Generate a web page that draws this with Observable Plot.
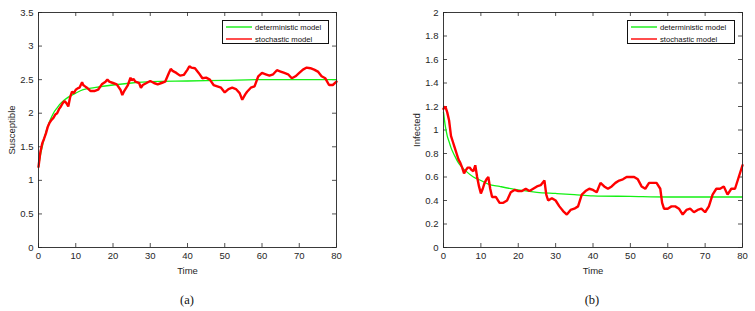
<!DOCTYPE html>
<html>
<head>
<meta charset="utf-8">
<script src="https://cdn.jsdelivr.net/npm/d3@7"></script>
<script src="https://cdn.jsdelivr.net/npm/@observablehq/plot@0.6"></script>
<style>
  body { margin: 0; background: #fff; }
  #wrap { position: relative; width: 755px; height: 311px; overflow: hidden; font-family: "Liberation Sans", Arial, sans-serif; }
  .panel { position: absolute; top: 0; }
  .legend { position: absolute; background: #fff; border: 0.8px solid #111; font-size: 7.7px; color: #111; box-sizing: border-box; }
  .legend .row { position: absolute; left: 2px; height: 9px; display: flex; align-items: center; white-space: nowrap; }
  .legend svg { display: block; margin-right: 2px; }
  .cap { position: absolute; top: 292px; line-height: 16px; font-family: "Liberation Serif", "DejaVu Serif", serif; font-size: 12.5px; color: #111; transform: translateX(-50%); }
</style>
</head>
<body>
<div id="wrap">
  <div class="panel" id="pa" style="left:0px"></div>
  <div class="panel" id="pb" style="left:377px"></div>
  <div class="legend" style="left:222px;top:20px;width:107px;height:24px">
    <div class="row" style="top:1.5px"><svg width="28" height="4"><line x1="1" x2="27" y1="2" y2="2" stroke="#14f014" stroke-width="1.4"/></svg>deterministic model</div>
    <div class="row" style="top:13.5px"><svg width="28" height="4"><line x1="1" x2="27" y1="2" y2="2" stroke="#ff0000" stroke-width="1.4"/></svg>stochastic model</div>
  </div>
  <div class="legend" style="left:627px;top:20px;width:108px;height:24px">
    <div class="row" style="top:1.5px"><svg width="28" height="4"><line x1="1" x2="27" y1="2" y2="2" stroke="#14f014" stroke-width="1.4"/></svg>deterministic model</div>
    <div class="row" style="top:13.5px"><svg width="28" height="4"><line x1="1" x2="27" y1="2" y2="2" stroke="#ff0000" stroke-width="1.4"/></svg>stochastic model</div>
  </div>
  <div class="cap" style="left:187px">(a)</div>
  <div class="cap" style="left:592px">(b)</div>
</div>
<script>
// ---------- data ----------
const xTicks = [0, 10, 20, 30, 40, 50, 60, 70, 80];
const yTicksA = [0, 0.5, 1, 1.5, 2, 2.5, 3, 3.5];
const yTicksB = [0, 0.2, 0.4, 0.6, 0.8, 1, 1.2, 1.4, 1.6, 1.8, 2];

// Panel (a): Susceptible
const detTimeA = [0, 0.5, 1, 1.5, 2, 3, 4, 5, 6, 7, 8, 10, 12, 15, 20, 25, 30, 40, 50, 60, 70, 80];
const detA     = [1.2, 1.37, 1.5, 1.62, 1.72, 1.88, 2.0, 2.08, 2.15, 2.2, 2.24, 2.3, 2.35, 2.38, 2.42, 2.45, 2.47, 2.48, 2.49, 2.5, 2.5, 2.5];

const stochTimeA = [0, 0.5, 1, 1.5, 2, 2.5, 3, 3.5, 4, 4.5, 5, 5.5, 6, 6.5, 7, 7.5, 8, 8.5, 9, 9.5, 10, 10.5, 11, 11.7, 12, 12.5, 13, 14, 15, 16, 17, 17.5, 18, 18.5, 19, 20, 21, 22, 22.5, 23, 24, 24.7, 25, 25.5, 26, 27, 27.5, 28, 29, 30, 31, 32, 33, 34, 35, 35.5, 36, 37, 38, 39, 40, 40.5, 41, 42, 43, 44, 45, 46, 47, 48, 49, 50, 51, 52, 53, 54, 54.7, 55.5, 56, 57, 58, 59, 60, 61, 62, 63, 64, 65, 66, 67, 68, 69, 70, 71, 72, 73, 74, 75, 76, 77, 78, 79, 80];
const stochA = [1.2, 1.42, 1.55, 1.62, 1.7, 1.8, 1.86, 1.9, 1.93, 1.98, 2.0, 2.06, 2.1, 2.15, 2.18, 2.15, 2.1, 2.24, 2.32, 2.3, 2.35, 2.37, 2.38, 2.46, 2.42, 2.4, 2.38, 2.33, 2.33, 2.35, 2.43, 2.45, 2.47, 2.5, 2.47, 2.45, 2.43, 2.35, 2.27, 2.33, 2.42, 2.53, 2.49, 2.51, 2.47, 2.45, 2.38, 2.42, 2.45, 2.48, 2.45, 2.43, 2.45, 2.47, 2.6, 2.66, 2.63, 2.6, 2.56, 2.57, 2.65, 2.7, 2.68, 2.67, 2.6, 2.52, 2.53, 2.5, 2.42, 2.4, 2.38, 2.31, 2.36, 2.38, 2.36, 2.3, 2.2, 2.28, 2.32, 2.38, 2.4, 2.55, 2.6, 2.58, 2.56, 2.58, 2.64, 2.62, 2.6, 2.58, 2.52, 2.55, 2.6, 2.65, 2.68, 2.67, 2.65, 2.62, 2.55, 2.52, 2.42, 2.42, 2.47];

// Panel (b): Infected
const detTimeB = [0, 0.5, 1, 1.5, 2, 3, 4, 5, 6, 8, 10, 12, 15, 20, 25, 30, 35, 40, 50, 60, 70, 80];
const detB     = [1.15, 1.03, 0.95, 0.9, 0.85, 0.78, 0.72, 0.68, 0.65, 0.6, 0.57, 0.54, 0.52, 0.49, 0.47, 0.46, 0.45, 0.44, 0.435, 0.43, 0.43, 0.43];

const stochTimeB = [0, 0.5, 1, 1.5, 2, 2.5, 3, 3.5, 4, 4.5, 5, 5.5, 6, 6.5, 7, 7.5, 8, 8.5, 9, 9.5, 10, 10.5, 11, 11.5, 12, 12.5, 13, 14, 15, 16, 17, 18, 19, 20, 21, 22, 23, 24, 25, 26, 27, 27.5, 28, 29, 30, 31, 32, 33, 34, 35, 36, 37, 38, 39, 40, 41, 42, 43, 44, 45, 46, 47, 48, 49, 50, 51, 52, 53, 54, 55, 56, 57, 58, 58.5, 59, 60, 61, 62, 63, 64, 65, 66, 67, 68, 69, 70, 71, 72, 73, 74, 75, 76, 77, 78, 79, 80];
const stochB = [1.18, 1.2, 1.15, 1.08, 0.95, 0.9, 0.85, 0.8, 0.75, 0.72, 0.68, 0.63, 0.66, 0.68, 0.68, 0.66, 0.65, 0.7, 0.6, 0.52, 0.46, 0.5, 0.55, 0.58, 0.6, 0.5, 0.43, 0.43, 0.38, 0.38, 0.4, 0.47, 0.49, 0.48, 0.48, 0.5, 0.48, 0.5, 0.52, 0.53, 0.57, 0.45, 0.4, 0.42, 0.4, 0.35, 0.31, 0.28, 0.32, 0.33, 0.35, 0.45, 0.48, 0.5, 0.49, 0.47, 0.55, 0.52, 0.5, 0.52, 0.55, 0.57, 0.58, 0.6, 0.6, 0.6, 0.58, 0.52, 0.5, 0.55, 0.55, 0.55, 0.5, 0.38, 0.33, 0.33, 0.35, 0.35, 0.33, 0.28, 0.32, 0.33, 0.3, 0.32, 0.33, 0.3, 0.35, 0.45, 0.5, 0.5, 0.52, 0.45, 0.5, 0.5, 0.6, 0.7];

// ---------- drawing ----------
const W = 378, H = 280, MT = 12, MB = 33, TL = 4;
const axisColor = "#262626";

function panel({el, ml, mr, yDomain, yTicks, yLabel, tD, vD, tS, vS}) {
  const iw = W - ml - mr, ih = H - MT - MB;
  const det = tD.map((t, i) => ({t, v: vD[i]}));
  const sto = tS.map((t, i) => ({t, v: vS[i]}));
  const fmt = d => String(d);
  const chart = Plot.plot({
    width: W, height: H,
    marginLeft: ml, marginRight: mr, marginTop: MT, marginBottom: MB,
    style: {fontFamily: "'Liberation Sans', Arial, sans-serif", fontSize: "9px", color: axisColor, background: "#fff"},
    x: {domain: [0, 80]},
    y: {domain: yDomain},
    marks: [
      Plot.axisX(xTicks, {tickSize: 0, tickPadding: 5, tickFormat: fmt, label: "Time", labelAnchor: "center", labelArrow: "none", labelOffset: 26.5, fontSize: 9.5}),
      Plot.axisY(yTicks, {tickSize: 0, tickPadding: 5, tickFormat: fmt, label: yLabel, labelAnchor: "center", labelArrow: "none", labelOffset: 30, fontSize: 9.5}),
      // inward ticks on all four sides
      Plot.tickX(xTicks, {x: d => d, insetTop: ih - TL, stroke: axisColor, strokeWidth: 0.8}),
      Plot.tickX(xTicks, {x: d => d, insetBottom: ih - TL, stroke: axisColor, strokeWidth: 0.8}),
      Plot.tickY(yTicks, {y: d => d, insetRight: iw - TL, stroke: axisColor, strokeWidth: 0.8}),
      Plot.tickY(yTicks, {y: d => d, insetLeft: iw - TL, stroke: axisColor, strokeWidth: 0.8}),
      Plot.line(det, {x: "t", y: "v", stroke: "#14f014", strokeWidth: 1.3, curve: "monotone-x"}),
      Plot.line(sto, {x: "t", y: "v", stroke: "#ff0000", strokeWidth: 2.4, strokeLinejoin: "miter"}),
      Plot.frame({stroke: axisColor, strokeWidth: 0.9})
    ]
  });
  document.getElementById(el).appendChild(chart);
}

panel({el: "pa", ml: 38, mr: 42, yDomain: [0, 3.5], yTicks: yTicksA, yLabel: "Susceptible",
       tD: detTimeA, vD: detA, tS: stochTimeA, vS: stochA});
panel({el: "pb", ml: 66, mr: 13, yDomain: [0, 2], yTicks: yTicksB, yLabel: "Infected",
       tD: detTimeB, vD: detB, tS: stochTimeB, vS: stochB});
</script>
</body>
</html>
